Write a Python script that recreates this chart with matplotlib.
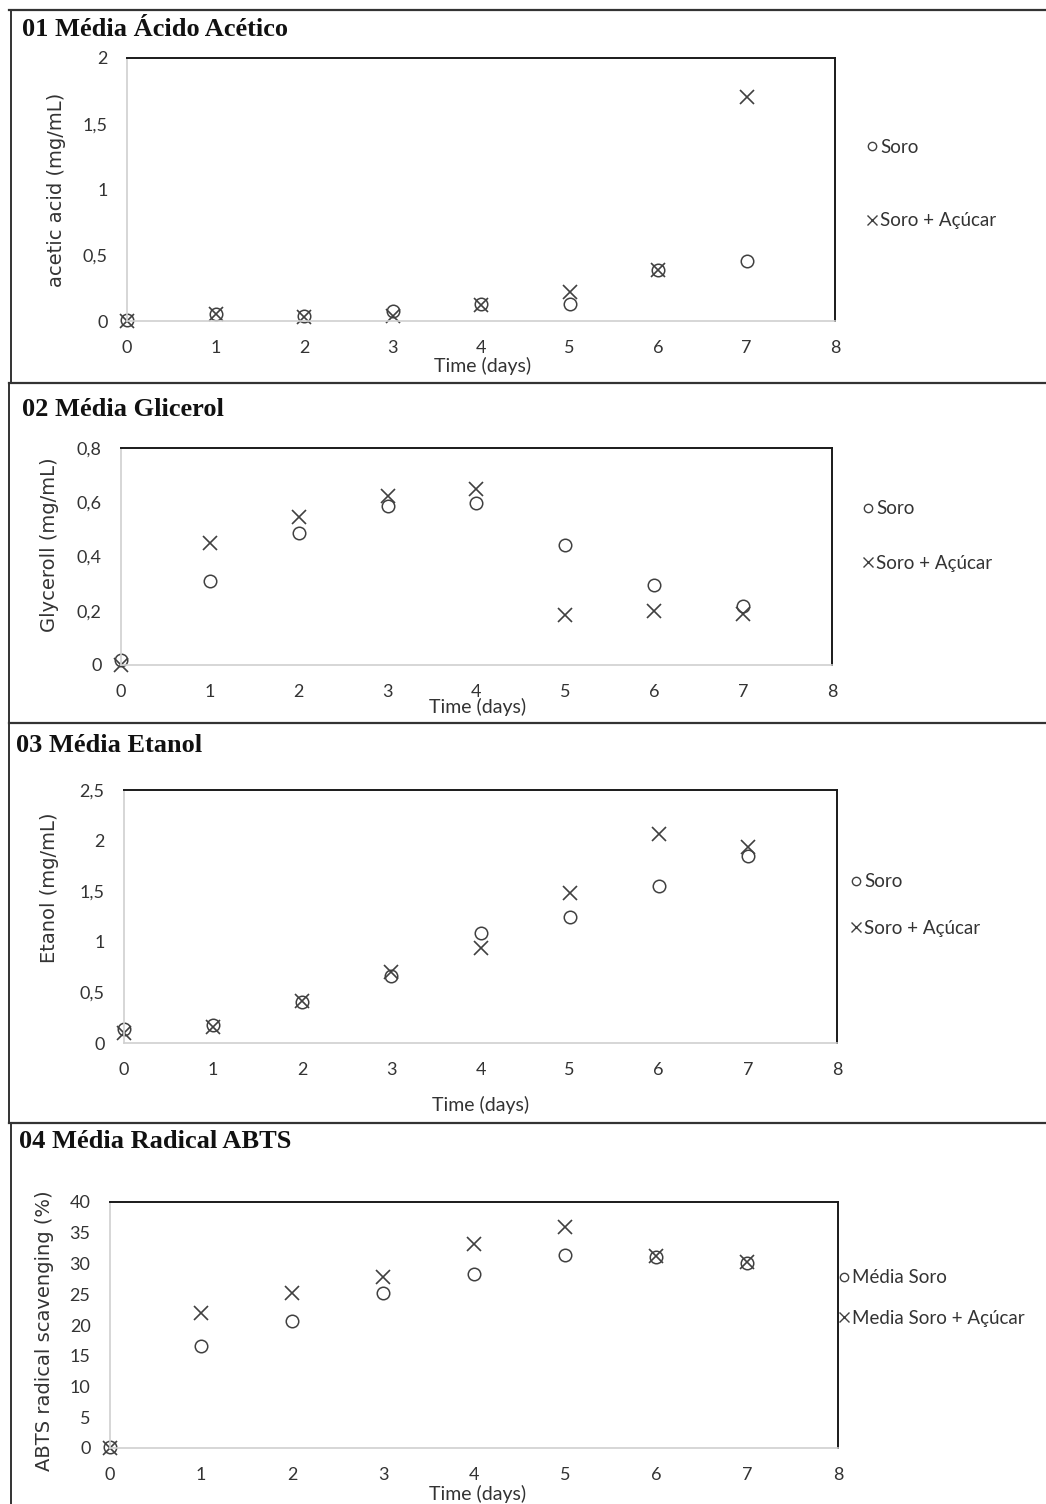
import matplotlib
matplotlib.use("Agg")
import matplotlib.pyplot as plt
from matplotlib.lines import Line2D
from matplotlib.ticker import FuncFormatter

W, H = 1046, 1504

# ---------------- data ----------------
days = [0, 1, 2, 3, 4, 5, 6, 7]
x_ticks = [0, 1, 2, 3, 4, 5, 6, 7, 8]

acetic_soro = [0.01, 0.05, 0.04, 0.076, 0.13, 0.13, 0.39, 0.46]
acetic_acucar = [0.0, 0.05, 0.03, 0.04, 0.12, 0.22, 0.39, 1.70]
acetic_yticks = [0, 0.5, 1, 1.5, 2]

glycerol_soro = [0.02, 0.31, 0.487, 0.587, 0.598, 0.443, 0.295, 0.218]
glycerol_acucar = [0.0, 0.45, 0.546, 0.624, 0.65, 0.185, 0.199, 0.188]
glycerol_yticks = [0, 0.2, 0.4, 0.6, 0.8]

ethanol_soro = [0.14, 0.18, 0.405, 0.66, 1.09, 1.25, 1.55, 1.85]
ethanol_acucar = [0.10, 0.16, 0.415, 0.70, 0.94, 1.48, 2.07, 1.94]
ethanol_yticks = [0, 0.5, 1, 1.5, 2, 2.5]

abts_soro = [0.2, 16.6, 20.6, 25.2, 28.3, 31.4, 31.1, 30.1]
abts_acucar = [0.0, 22.0, 25.2, 27.8, 33.2, 35.9, 31.2, 30.2]
abts_yticks = [0, 5, 10, 15, 20, 25, 30, 35, 40]

titles = ["01 Média Ácido Acético", "02 Média Glicerol",
          "03 Média Etanol", "04 Média Radical ABTS"]
ylabels = ["acetic acid (mg/mL)", "Glyceroll (mg/mL)",
           "Etanol (mg/mL)", "ABTS radical scavenging (%)"]
xlabel = "Time (days)"
legend_labels = [["Soro", "Soro + Açúcar"], ["Soro", "Soro + Açúcar"],
                 ["Soro", "Soro + Açúcar"], ["Média Soro", "Media Soro + Açúcar"]]

# ---------------- layout (pixels) ----------------
panels = [
    dict(soro=acetic_soro, acucar=acetic_acucar, yt=acetic_yticks,
         box=(127, 58, 835, 321), title=(22, 30), ylab=(57, 190),
         xlab=(483, 366), leg=(866, 184), lsp=3.0),
    dict(soro=glycerol_soro, acucar=glycerol_acucar, yt=glycerol_yticks,
         box=(121, 448, 832, 665), title=(22, 409), ylab=(50, 545),
         xlab=(478, 707), leg=(862, 536), lsp=2.0),
    dict(soro=ethanol_soro, acucar=ethanol_acucar, yt=ethanol_yticks,
         box=(124, 790, 837, 1043), title=(16, 745), ylab=(50, 888),
         xlab=(481, 1105), leg=(850, 905), lsp=1.55),
    dict(soro=abts_soro, acucar=abts_acucar, yt=abts_yticks,
         box=(110, 1202, 838, 1448), title=(19, 1142), ylab=(45, 1331),
         xlab=(478, 1494), leg=(838, 1298), lsp=1.25),
]

fig = plt.figure(figsize=(W / 100, H / 100), dpi=100)
fig.patch.set_facecolor("white")

tick_font = ["Lato", "DejaVu Sans"]
mcol = "#404040"


def fx(px):
    return px / W


def fy(py):
    return 1 - py / H


def comma(v, pos):
    s = ("%g" % v)
    return s.replace(".", ",")


for i, p in enumerate(panels):
    l, t, r, b = p["box"]
    ax = fig.add_axes([fx(l), fy(b), (r - l) / W, (b - t) / H])
    ax.plot(days, p["soro"], linestyle="none", marker="o", markersize=9,
            markerfacecolor="none", markeredgecolor=mcol, markeredgewidth=1.1,
            label=legend_labels[i][0])
    ax.plot(days, p["acucar"], linestyle="none", marker="x", markersize=10.5,
            markeredgecolor=mcol, markeredgewidth=1.2,
            label=legend_labels[i][1])
    ax.set_xlim(0, 8)
    ax.set_ylim(p["yt"][0], p["yt"][-1])
    ax.set_xticks(x_ticks)
    ax.set_yticks(p["yt"])
    ax.yaxis.set_major_formatter(FuncFormatter(comma))
    ax.tick_params(length=0, pad=14, labelsize=13, colors="#333333")
    for lab in ax.get_xticklabels() + ax.get_yticklabels():
        lab.set_family(tick_font)
    for s in ("top", "right"):
        ax.spines[s].set_color("#1a1a1a")
        ax.spines[s].set_linewidth(1.4)
    for s in ("left", "bottom"):
        ax.spines[s].set_color("#d0d0d0")
        ax.spines[s].set_linewidth(1.2)
    for ln in ax.lines:
        ln.set_clip_on(False)

    fig.text(fx(p["title"][0]), fy(p["title"][1]), titles[i],
             family="Liberation Serif", fontweight="bold", fontsize=19,
             ha="left", va="center", color="#111111")
    fig.text(fx(p["ylab"][0]), fy(p["ylab"][1]), ylabels[i],
             family="DejaVu Sans", fontsize=14, rotation=90,
             ha="center", va="center", color="#333333")
    fig.text(fx(p["xlab"][0]), fy(p["xlab"][1]), xlabel,
             family=tick_font, fontsize=14, ha="center", va="center",
             color="#333333")

    handles = [
        Line2D([], [], linestyle="none", marker="o", markersize=6,
               markerfacecolor="none", markeredgecolor=mcol, markeredgewidth=1),
        Line2D([], [], linestyle="none", marker="x", markersize=7,
               markeredgecolor=mcol, markeredgewidth=1),
    ]
    fig.legend(handles, legend_labels[i], loc="center left",
               bbox_to_anchor=(fx(p["leg"][0]), fy(p["leg"][1])),
               frameon=False, handlelength=0.6, handletextpad=0.15,
               borderpad=0, borderaxespad=0, labelspacing=p["lsp"],
               prop=dict(family=tick_font, size=13.5),
               labelcolor="#333333")

# panel frames
frame_col = "#333333"
for yy in (10, 383, 723, 1123):
    fig.add_artist(Line2D([fx(9), 1.0], [fy(yy), fy(yy)], color=frame_col,
                          linewidth=1.6, transform=fig.transFigure))
for (x0, y0, y1) in [(11, 10, 383), (9, 383, 723), (9, 723, 1123), (11, 1123, 1504)]:
    fig.add_artist(Line2D([fx(x0), fx(x0)], [fy(y0), fy(y1)], color=frame_col,
                          linewidth=1.4, transform=fig.transFigure))

fig.savefig("out.png", dpi=100, facecolor="white")
